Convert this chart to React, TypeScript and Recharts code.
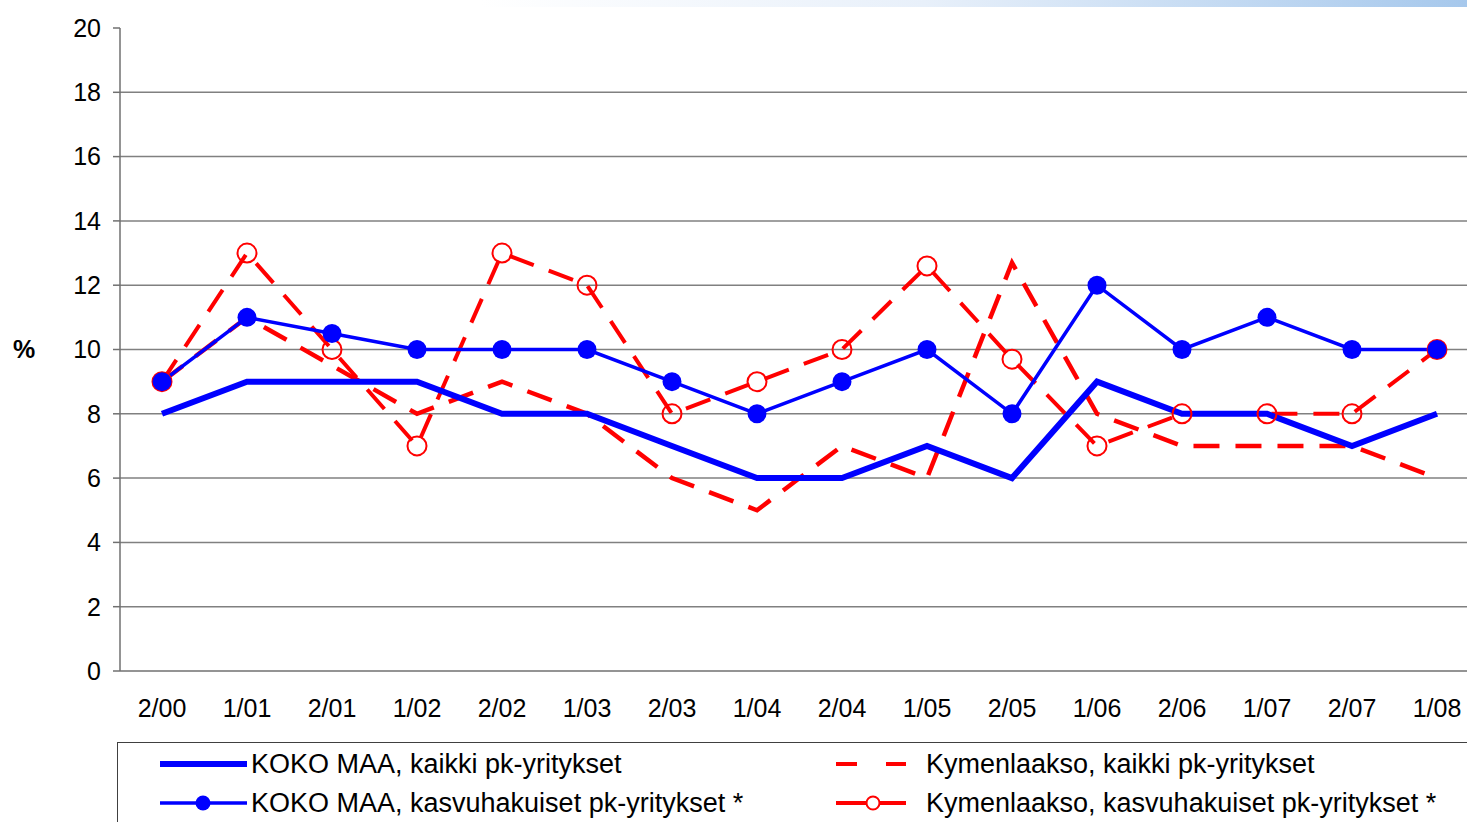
import { LineChart, Line, XAxis, YAxis, CartesianGrid } from "recharts";

const periods = ["2/00", "1/01", "2/01", "1/02", "2/02", "1/03", "2/03", "1/04", "2/04", "1/05", "2/05", "1/06", "2/06", "1/07", "2/07", "1/08"];
const kokoKaikki = [8, 9, 9, 9, 8, 8, 7, 6, 6, 7, 6, 9, 8, 8, 7, 8];
const kokoKasvu = [9, 11, 10.5, 10, 10, 10, 9, 8, 9, 10, 8, 12, 10, 11, 10, 10];
const kymiKaikki = [9, 11, 9.5, 8, 9, 8, 6, 5, 7, 6, 12.7, 8, 7, 7, 7, 6];
const kymiKasvu = [9, 13, 10, 7, 13, 12, 8, 9, 10, 12.6, 9.7, 7, 8, 8, 8, 10];
const yTicks = [0, 2, 4, 6, 8, 10, 12, 14, 16, 18, 20];
const gridValues = [2, 4, 6, 8, 10, 12, 14, 16, 18];

const seriesNames = {
  kokoKaikki: "KOKO MAA, kaikki pk-yritykset",
  kokoKasvu: "KOKO MAA, kasvuhakuiset pk-yritykset *",
  kymiKaikki: "Kymenlaakso, kaikki pk-yritykset",
  kymiKasvu: "Kymenlaakso, kasvuhakuiset pk-yritykset *",
};

const data = periods.map((p, i) => ({
  period: p,
  kokoKaikki: kokoKaikki[i],
  kokoKasvu: kokoKasvu[i],
  kymiKaikki: kymiKaikki[i],
  kymiKasvu: kymiKasvu[i],
}));

const BLUE = "#0000ff";
const RED = "#ff0000";
const font = "'Liberation Sans', Arial, sans-serif";
const tickStyle = { fill: "#000", fontSize: 25, fontFamily: font };

const Legend = () => {
  const txt = {
    position: "absolute" as const,
    fontFamily: font,
    fontSize: 27,
    lineHeight: "30px",
    color: "#000",
    whiteSpace: "nowrap" as const,
  };
  return (
    <div
      style={{
        position: "absolute",
        left: 117,
        top: 742,
        width: 1400,
        height: 120,
        border: "1.5px solid #404040",
        background: "#fff",
        boxSizing: "border-box",
      }}
    >
      <svg width={1400} height={120} style={{ position: "absolute", left: -1, top: -1 }}>
        <line x1={43} x2={130} y1={22} y2={22} stroke={BLUE} strokeWidth={6} />
        <line x1={43} x2={130} y1={61} y2={61} stroke={BLUE} strokeWidth={3.5} />
        <circle cx={86} cy={61} r={7.5} fill={BLUE} />
        <line x1={719} x2={789} y1={22} y2={22} stroke={RED} strokeWidth={4} strokeDasharray="21 29" />
        <line x1={719} x2={789} y1={61} y2={61} stroke={RED} strokeWidth={4} />
        <circle cx={756} cy={61} r={6.5} fill="#fff" stroke={RED} strokeWidth={2} />
      </svg>
      <span style={{ ...txt, left: 133, top: 6 }}>{seriesNames.kokoKaikki}</span>
      <span style={{ ...txt, left: 133, top: 45 }}>{seriesNames.kokoKasvu}</span>
      <span style={{ ...txt, left: 808, top: 6 }}>{seriesNames.kymiKaikki}</span>
      <span style={{ ...txt, left: 808, top: 45 }}>{seriesNames.kymiKasvu}</span>
    </div>
  );
};

export default function App() {
  return (
    <div
      style={{
        position: "absolute",
        left: 0,
        top: 0,
        width: 1467,
        height: 822,
        overflow: "hidden",
        background: "#fff",
      }}
    >
      <div
        style={{
          position: "absolute",
          left: 480,
          top: 0,
          width: 987,
          height: 7,
          background: "linear-gradient(to right, rgba(255,255,255,1), #e8f0fa 45%, #a6c8ec)",
        }}
      />
      <LineChart
        width={1500}
        height={822}
        data={data}
        margin={{ top: 28, right: 20, left: 0, bottom: 0 }}
      >
        <CartesianGrid
          vertical={false}
          horizontalValues={gridValues}
          stroke="#808080"
          strokeWidth={1.5}
        />
        <XAxis
          dataKey="period"
          interval={0}
          height={151}
          tickLine={false}
          tickSize={0}
          tickMargin={28}
          padding={{ left: 42, right: 43 }}
          axisLine={{ stroke: "#707070", strokeWidth: 1.5 }}
          tick={tickStyle}
        />
        <YAxis
          width={120}
          domain={[0, 20]}
          ticks={yTicks}
          interval={0}
          tickSize={7}
          tickMargin={12}
          axisLine={{ stroke: "#707070", strokeWidth: 1.5 }}
          tickLine={{ stroke: "#707070", strokeWidth: 1.5 }}
          tick={tickStyle}
          label={{
            value: "%",
            position: "insideLeft",
            offset: 13,
            style: { fill: "#000", fontSize: 25, fontWeight: "bold", fontFamily: font },
          }}
        />
        <Line
          dataKey="kymiKaikki"
          name={seriesNames.kymiKaikki}
          stroke={RED}
          strokeWidth={4.5}
          strokeDasharray="26 16"
          dot={false}
          isAnimationActive={false}
        />
        <Line
          dataKey="kymiKasvu"
          name={seriesNames.kymiKasvu}
          stroke={RED}
          strokeWidth={4}
          strokeDasharray="26 16"
          dot={{ r: 9.5, fill: "none", stroke: RED, strokeWidth: 2, strokeDasharray: "none" }}
          isAnimationActive={false}
        />
        <Line
          dataKey="kokoKaikki"
          name={seriesNames.kokoKaikki}
          stroke={BLUE}
          strokeWidth={6}
          dot={false}
          isAnimationActive={false}
        />
        <Line
          dataKey="kokoKasvu"
          name={seriesNames.kokoKasvu}
          stroke={BLUE}
          strokeWidth={3.5}
          dot={{ r: 9.5, fill: BLUE, stroke: BLUE, strokeWidth: 0 }}
          isAnimationActive={false}
        />
      </LineChart>
      <Legend />
    </div>
  );
}
